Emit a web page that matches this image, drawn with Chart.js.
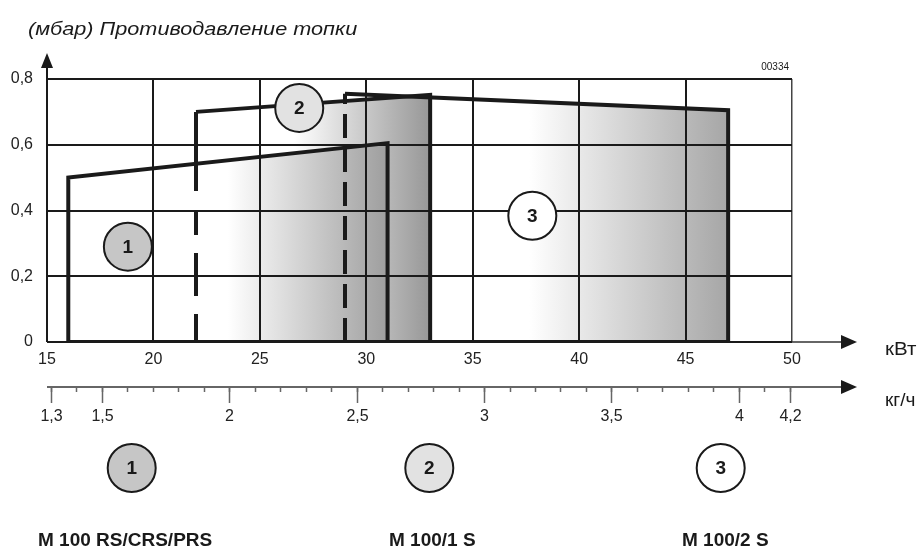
<!DOCTYPE html>
<html>
<head>
<meta charset="utf-8">
<script src="https://cdn.jsdelivr.net/npm/chart.js@4.4.1/dist/chart.umd.min.js"></script>
<style>
  html, body { margin: 0; padding: 0; background: #fff; }
  #wrap { width: 921px; height: 551px; position: relative; }
</style>
</head>
<body>
<div id="wrap"><canvas id="chart"></canvas></div>
<script>
// axes (kW on x, mbar on y)
const xTicks = [15, 20, 25, 30, 35, 40, 45, 50];
const yTicks = [0, 0.2, 0.4, 0.6, 0.8];
const yTickLabels = ['0', '0,2', '0,4', '0,6', '0,8'];
// second axis, fuel flow kg/h
const kgTicks = [1.3, 1.5, 2, 2.5, 3, 3.5, 4, 4.2];
const kgTickLabels = ['1,3', '1,5', '2', '2,5', '3', '3,5', '4', '4,2'];
const kgMin = 1.286, kgMax = 4.208;

const modelIds = ['1', '2', '3'];
const modelNames = ['M 100 RS/CRS/PRS', 'M 100/1 S', 'M 100/2 S'];

// working fields, corner points (kW, mbar)
const field1X = [16, 16, 31, 31];
const field1Y = [0, 0.5, 0.605, 0];
const field2X = [22, 22, 33, 33];
const field2Y = [0, 0.70, 0.752, 0];
const field3X = [29, 29, 47, 47];
const field3Y = [0, 0.755, 0.705, 0];

// numbered markers inside the plot
const markX = [18.8, 26.85, 37.8];
const markY = [0.29, 0.712, 0.384];

const FONT = "'Liberation Sans', Arial, sans-serif";
const INK = '#1a1a1a';
const markFill = ['#c6c6c6', '#e2e2e2', '#ffffff'];

function pts(xs, ys) { return xs.map((x, i) => ({x: x, y: ys[i]})); }

// horizontal white -> grey shading over a field
function shade(xs, whiteFrac, dark) {
  return (ctx) => {
    const chart = ctx.chart;
    if (!chart.chartArea) return 'rgba(0,0,0,0)';
    const sx = chart.scales.x;
    const x0 = sx.getPixelForValue(Math.min(...xs));
    const x1 = sx.getPixelForValue(Math.max(...xs));
    const g = chart.ctx.createLinearGradient(x0, 0, x1, 0);
    g.addColorStop(0, '#ffffff');
    g.addColorStop(whiteFrac, '#ffffff');
    g.addColorStop(1, dark);
    return g;
  };
}

function dashFirst(pattern) {
  return { borderDash: (ctx) => ctx.p0DataIndex === 0 ? pattern : [] };
}

const allX = field1X.concat(field2X, field3X);

// draw text squeezed/stretched horizontally
function wideText(c, txt, x, y, sx) {
  c.save();
  c.translate(x, y);
  c.scale(sx, 1);
  c.fillText(txt, 0, 0);
  c.restore();
}

const decor = {
  id: 'decor',
  afterDatasetsDraw(chart) {
    // numbers in the plot markers
    const c = chart.ctx;
    const meta = chart.getDatasetMeta(0);
    c.save();
    c.fillStyle = INK;
    c.font = 'bold 19px ' + FONT;
    c.textAlign = 'center';
    c.textBaseline = 'middle';
    meta.data.forEach((p, i) => c.fillText(modelIds[i], p.x, p.y + 1));
    c.restore();
  },
  afterDraw(chart) {
    const c = chart.ctx, a = chart.chartArea, s2 = chart.scales.x2;
    c.save();
    c.strokeStyle = INK;
    c.fillStyle = INK;

    // title
    c.font = 'italic 19px ' + FONT;
    c.textBaseline = 'alphabetic';
    wideText(c, '(мбар) Противодавление топки', 28, 35, 1.14);

    // y arrow
    c.lineWidth = 2;
    c.beginPath(); c.moveTo(a.left, a.top); c.lineTo(a.left, 66); c.stroke();
    c.beginPath(); c.moveTo(a.left, 53); c.lineTo(a.left - 6, 68); c.lineTo(a.left + 6, 68); c.closePath(); c.fill();

    // kW arrow
    c.lineWidth = 1.5;
    c.strokeStyle = '#333';
    c.beginPath(); c.moveTo(a.right, a.bottom); c.lineTo(845, a.bottom); c.stroke();
    c.beginPath(); c.moveTo(857, a.bottom); c.lineTo(841, a.bottom - 7); c.lineTo(841, a.bottom + 7); c.closePath(); c.fill();

    // kg/h axis
    const ky = 387;
    c.beginPath(); c.moveTo(a.left, ky); c.lineTo(845, ky); c.stroke();
    c.beginPath(); c.moveTo(857, ky); c.lineTo(841, ky - 7); c.lineTo(841, ky + 7); c.closePath(); c.fill();
    c.strokeStyle = '#666';
    c.lineWidth = 1.5;
    for (let k = 13; k <= 42; k++) {
      const px = Math.round(s2.getPixelForValue(k / 10)) + 0.5;
      c.beginPath(); c.moveTo(px, ky); c.lineTo(px, ky + 5); c.stroke();
    }
    c.font = '16px ' + FONT;
    c.textAlign = 'center';
    c.textBaseline = 'middle';
    c.fillStyle = '#222';
    kgTicks.forEach((v, i) => {
      const px = Math.round(s2.getPixelForValue(v)) + 0.5;
      c.beginPath(); c.moveTo(px, ky); c.lineTo(px, ky + 16); c.stroke();
      c.fillText(kgTickLabels[i], px, 417);
    });

    // unit labels
    c.font = '19px ' + FONT;
    c.textAlign = 'left';
    c.fillStyle = INK;
    wideText(c, 'кВт', 885, 350, 1.08);
    wideText(c, 'кг/ч', 885, 401, 1.0);

    // drawing number
    c.font = '10px ' + FONT;
    c.textAlign = 'right';
    c.fillText('00334', 789, 67);

    // model key
    const keyX = [131.7, 429.3, 720.7];
    const nameX = [38, 389, 682];
    modelIds.forEach((id, i) => {
      c.beginPath();
      c.arc(keyX[i], 468, 24, 0, Math.PI * 2);
      c.fillStyle = markFill[i];
      c.fill();
      c.lineWidth = 2;
      c.strokeStyle = INK;
      c.stroke();
      c.fillStyle = INK;
      c.font = 'bold 19px ' + FONT;
      c.textAlign = 'center';
      c.fillText(id, keyX[i], 469);
      c.textAlign = 'left';
      c.fillText(modelNames[i], nameX[i], 541);
    });
    c.restore();
  }
};

new Chart(document.getElementById('chart'), {
  type: 'line',
  data: {
    datasets: [
      {
        label: 'markers',
        data: pts(markX, markY),
        showLine: false,
        pointRadius: 24,
        pointHoverRadius: 24,
        pointBackgroundColor: markFill,
        pointBorderColor: INK,
        pointBorderWidth: 2,
        order: 0
      },
      {
        label: modelNames[0],
        data: pts(field1X, field1Y),
        borderColor: INK,
        borderWidth: 4,
        pointRadius: 0,
        fill: 'origin',
        backgroundColor: shade(field1X, 0.5, '#9e9e9e'),
        order: 1
      },
      {
        label: modelNames[1],
        data: pts(field2X, field2Y),
        borderColor: INK,
        borderWidth: 4,
        pointRadius: 0,
        fill: 'origin',
        backgroundColor: shade(field2X, 0.42, '#979797'),
        segment: dashFirst([28, 18, 43, 18, 24, 20, 90]),
        order: 2
      },
      {
        label: modelNames[2],
        data: pts(field3X, field3Y),
        borderColor: INK,
        borderWidth: 4,
        pointRadius: 0,
        fill: 'origin',
        backgroundColor: shade(field3X, 0.48, '#a6a6a6'),
        segment: dashFirst([24, 10]),
        order: 3
      },
      {
        label: 'base',
        data: [{x: Math.min(...allX), y: 0}, {x: Math.max(...allX), y: 0}],
        borderColor: INK,
        borderWidth: 4,
        pointRadius: 0,
        fill: false,
        order: 4
      }
    ]
  },
  options: {
    responsive: true,
    maintainAspectRatio: false,
    animation: false,
    events: [],
    layout: { padding: { top: 79, right: 129, bottom: 170, left: 0 } },
    plugins: {
      legend: { display: false },
      tooltip: { enabled: false },
      filler: { drawTime: 'beforeDraw' }
    },
    scales: {
      x: {
        type: 'linear',
        min: xTicks[0],
        max: xTicks[xTicks.length - 1],
        afterBuildTicks: (axis) => { axis.ticks = xTicks.map(v => ({value: v})); },
        afterFit: (axis) => { axis.height = 39; },
        border: { display: false },
        grid: {
          color: (ctx) => ctx.tick && ctx.tick.value === 50 ? '#444' : INK,
          lineWidth: (ctx) => ctx.tick && ctx.tick.value === 50 ? 1.5 : 2,
          drawTicks: false
        },
        ticks: {
          padding: 8,
          color: '#222',
          font: { family: FONT, size: 16 },
          callback: (v) => String(v)
        }
      },
      x2: {
        type: 'linear',
        display: false,
        position: 'bottom',
        min: kgMin,
        max: kgMax
      },
      y: {
        type: 'linear',
        min: yTicks[0],
        max: yTicks[yTicks.length - 1],
        afterBuildTicks: (axis) => { axis.ticks = yTicks.map(v => ({value: v})); },
        afterFit: (axis) => { axis.width = 47; },
        border: { display: false },
        grid: { color: INK, lineWidth: 2, drawTicks: false },
        ticks: {
          padding: 14,
          color: '#222',
          font: { family: FONT, size: 16 },
          callback: (v) => yTickLabels[yTicks.indexOf(v)]
        }
      }
    }
  },
  plugins: [decor]
});
</script>
</body>
</html>
